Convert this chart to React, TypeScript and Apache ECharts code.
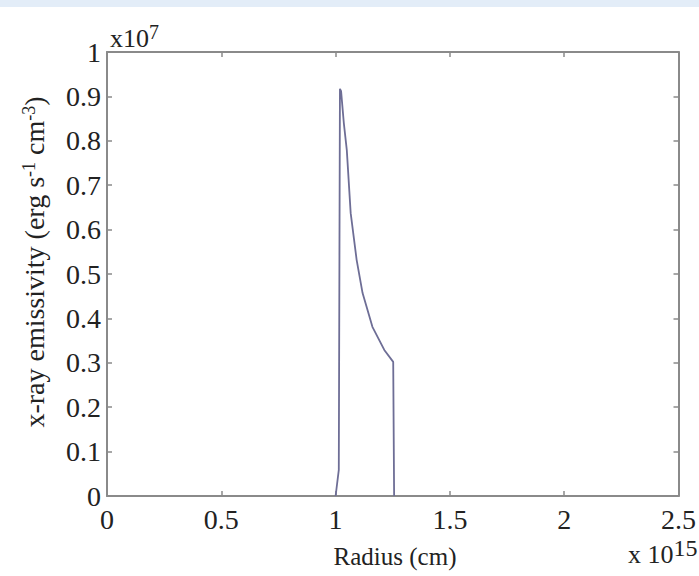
import React, { useEffect, useRef } from "react";
import * as echarts from "echarts";

// Radius in units of 1e15 cm
const radius = [1.0, 1.014, 1.019, 1.024, 1.036, 1.049, 1.066, 1.092, 1.118, 1.161, 1.213, 1.252, 1.256];
// X-ray emissivity in units of 1e7 erg s^-1 cm^-3
const emissivity = [0, 0.059, 0.917, 0.912, 0.84, 0.779, 0.637, 0.532, 0.457, 0.381, 0.329, 0.302, 0];

const xTicks = [0, 0.5, 1, 1.5, 2, 2.5];
const yTicks = [0, 0.1, 0.2, 0.3, 0.4, 0.5, 0.6, 0.7, 0.8, 0.9, 1];

const FONT = "'Liberation Serif', 'DejaVu Serif', 'Times New Roman', serif";
const AXIS_COLOR = "#8a8a8a";
const LINE_COLOR = "#6e6e96";

function axisLine() {
  return { show: true, onZero: false, lineStyle: { color: AXIS_COLOR, width: 2 } };
}
function axisTick() {
  return { show: true, inside: true, length: 5, lineStyle: { color: AXIS_COLOR, width: 1.5 } };
}

export default function App() {
  const ref = useRef<HTMLDivElement>(null);
  useEffect(() => {
    if (!ref.current) return;
    const chart = echarts.init(ref.current, null, { renderer: "svg" });
    const fmt = (v: number) => {
      const r = Math.round(v * 10) / 10;
      return Number.isInteger(r) ? String(r) : r.toFixed(1);
    };
    const data = radius.map((r, i) => [r, emissivity[i]]);
    chart.setOption({
      animation: false,
      backgroundColor: "#ffffff",
      grid: { left: 107, right: 15, top: 52, bottom: 80, containLabel: false },
      xAxis: [
        {
          type: "value",
          min: xTicks[0],
          max: xTicks[xTicks.length - 1],
          interval: 0.5,
          position: "bottom",
          axisLine: axisLine(),
          axisTick: axisTick(),
          splitLine: { show: false },
          axisLabel: { show: true, margin: 9, color: "#222", fontFamily: FONT, fontSize: 28, formatter: fmt },
        },
        {
          type: "value",
          min: xTicks[0],
          max: xTicks[xTicks.length - 1],
          interval: 0.5,
          position: "top",
          axisLine: axisLine(),
          axisTick: axisTick(),
          splitLine: { show: false },
          axisLabel: { show: false },
        },
      ],
      yAxis: [
        {
          type: "value",
          min: yTicks[0],
          max: yTicks[yTicks.length - 1],
          interval: 0.1,
          position: "left",
          axisLine: axisLine(),
          axisTick: axisTick(),
          splitLine: { show: false },
          axisLabel: { show: true, margin: 6, color: "#222", fontFamily: FONT, fontSize: 28, formatter: fmt },
        },
        {
          type: "value",
          min: yTicks[0],
          max: yTicks[yTicks.length - 1],
          interval: 0.1,
          position: "right",
          axisLine: axisLine(),
          axisTick: axisTick(),
          splitLine: { show: false },
          axisLabel: { show: false },
        },
      ],
      series: [
        {
          type: "line",
          data,
          showSymbol: false,
          smooth: false,
          lineStyle: { color: LINE_COLOR, width: 1.8 },
        },
      ],
      graphic: [
        { type: "rect", shape: { x: 0, y: 0, width: 699, height: 7 }, style: { fill: "#e3edf8" }, silent: true },
        {
          type: "text",
          x: 110,
          y: 22,
          style: {
            text: "x10{sup|7}",
            fontFamily: FONT,
            fontSize: 26,
            fill: "#222",
            rich: { sup: { fontFamily: FONT, fontSize: 20, verticalAlign: "top", padding: [0, 0, 12, 0] } },
          },
        },
        {
          type: "text",
          x: 395,
          y: 556,
          style: { text: "Radius (cm)", fontFamily: FONT, fontSize: 25, fill: "#222", align: "center", verticalAlign: "middle" },
        },
        {
          type: "text",
          x: 628,
          y: 536,
          style: {
            text: "x 10{sup|15}",
            fontFamily: FONT,
            fontSize: 26,
            fill: "#222",
            rich: { sup: { fontFamily: FONT, fontSize: 24, verticalAlign: "top", padding: [0, 0, 12, 0] } },
          },
        },
        {
          type: "text",
          x: 34,
          y: 262,
          rotation: Math.PI / 2,
          style: {
            text: "x-ray emissivity (erg s{sup|-1} cm{sup|-3})",
            fontFamily: FONT,
            fontSize: 28,
            fill: "#222",
            align: "center",
            verticalAlign: "middle",
            rich: { sup: { fontFamily: FONT, fontSize: 18, verticalAlign: "top", padding: [0, 0, 10, 0] } },
          },
        },
      ],
    });
    return () => chart.dispose();
  }, []);
  return <div ref={ref} style={{ position: "fixed", left: 0, top: 0, width: 699, height: 576 }} />;
}
